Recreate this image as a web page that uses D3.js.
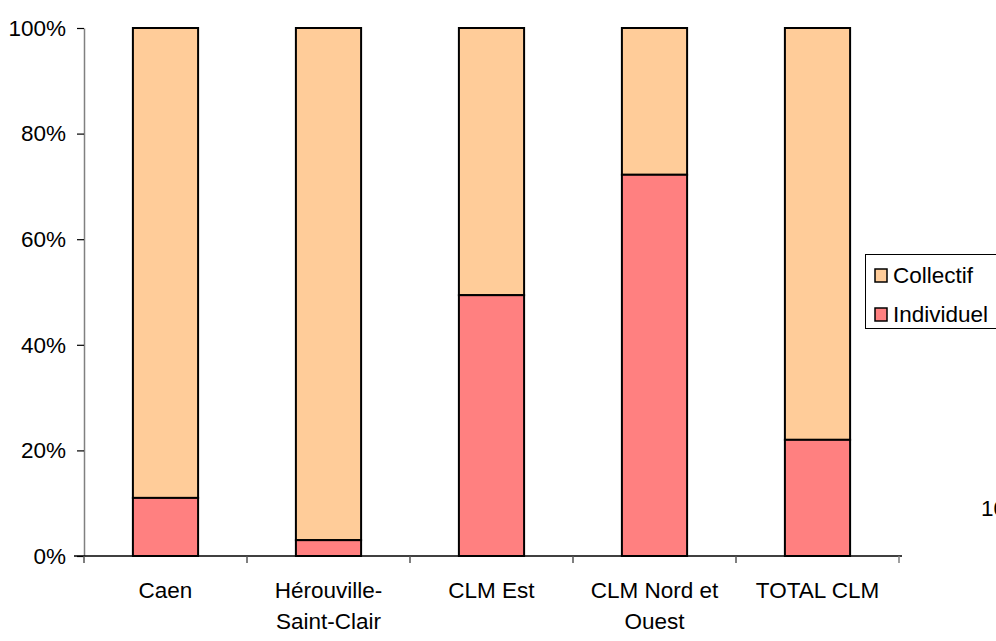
<!DOCTYPE html>
<html><head><meta charset="utf-8">
<script src="https://cdn.jsdelivr.net/npm/d3@7"></script>
<style>body{margin:0;background:#fff;overflow:hidden}svg{display:block}text{font-family:"Liberation Sans",Arial,sans-serif}</style>
</head><body><svg id="c" width="996" height="641"></svg>
<script>
const categories = [["Caen"], ["Hérouville-", "Saint-Clair"], ["CLM Est"], ["CLM Nord et", "Ouest"], ["TOTAL CLM"]];
const individuel = [11, 3, 49.4, 72.2, 22];
const collectif = [89, 97, 50.6, 27.8, 78];
const yTicks = [0, 20, 40, 60, 80, 100];
const seriesNames = ["Collectif", "Individuel"];
const colors = {Collectif: "#FFCC99", Individuel: "#FF8080"};

const FS = 22.5;
const svg = d3.select("#c");
const pLeft = 84, pRight = 899, pTop = 28, pBottom = 556;
const keys = categories.map(d => d.join(" "));
const x = d3.scaleBand().domain(keys).range([pLeft, pRight]).paddingInner(0.6).paddingOuter(0.3);
const y = d3.scaleLinear().domain([0, 100]).range([pBottom, pTop]);

// y axis
const ya = svg.append("g").attr("transform", `translate(${pLeft},0)`)
  .call(d3.axisLeft(y).tickValues(yTicks).tickFormat(d => d + "%").tickSize(7).tickSizeOuter(0).tickPadding(11));
ya.select(".domain").attr("stroke", "#808080").attr("stroke-width", 1.5);
ya.selectAll(".tick line").attr("stroke", "#000").attr("stroke-width", 1.2);
ya.selectAll("text").attr("font-size", FS).attr("fill", "#000").attr("font-family", "Liberation Sans, Arial, sans-serif");

// bars
const data = keys.map((k, i) => ({k, ind: individuel[i], col: collectif[i]}));
const g = svg.append("g");
g.selectAll("rect.col").data(data).join("rect").attr("class", "col")
  .attr("x", d => x(d.k)).attr("width", x.bandwidth())
  .attr("y", d => y(d.ind + d.col)).attr("height", d => y(d.ind) - y(d.ind + d.col))
  .attr("fill", colors.Collectif).attr("stroke", "#000").attr("stroke-width", 2);
g.selectAll("rect.ind").data(data).join("rect").attr("class", "ind")
  .attr("x", d => x(d.k)).attr("width", x.bandwidth())
  .attr("y", d => y(d.ind)).attr("height", d => y(0) - y(d.ind))
  .attr("fill", colors.Individuel).attr("stroke", "#000").attr("stroke-width", 2);

// x axis
const xStep = (pRight - pLeft) / keys.length;
const xa = svg.append("g");
xa.append("line").attr("x1", pLeft - 10).attr("x2", pRight + 3).attr("y1", pBottom).attr("y2", pBottom).attr("stroke", "#000").attr("stroke-width", 1.5);
d3.range(keys.length + 1).forEach(i => {
  xa.append("line").attr("x1", pLeft + i * xStep).attr("x2", pLeft + i * xStep).attr("y1", pBottom).attr("y2", pBottom + 7).attr("stroke", i === keys.length ? "#808080" : "#555").attr("stroke-width", 1.5);
});
categories.forEach((lines, i) => {
  const cx = x(keys[i]) + x.bandwidth() / 2;
  const t = xa.append("text").attr("x", cx).attr("y", 598)
    .attr("text-anchor", "middle").attr("font-size", FS).attr("fill", "#000");
  lines.forEach((l, j) => t.append("tspan").attr("x", cx).attr("dy", j ? 31 : 0).text(l));
});

// legend
const lg = svg.append("g");
lg.append("rect").attr("x", 865.5).attr("y", 254.5).attr("width", 140).attr("height", 74).attr("fill", "#fff").attr("stroke", "#000").attr("stroke-width", 1);
seriesNames.forEach((s, i) => {
  lg.append("rect").attr("x", 875).attr("y", 269 + i * 39).attr("width", 12).attr("height", 13).attr("fill", colors[s]).attr("stroke", "#000").attr("stroke-width", 1.5);
  lg.append("text").attr("x", 893).attr("y", 283 + i * 39).attr("font-size", FS).attr("fill", "#000").text(s);
});

// stray label partly outside the right edge, as in the reference
svg.append("text").attr("x", 981).attr("y", 516).attr("font-size", FS).attr("fill", "#000").text("10");
</script></body></html>
